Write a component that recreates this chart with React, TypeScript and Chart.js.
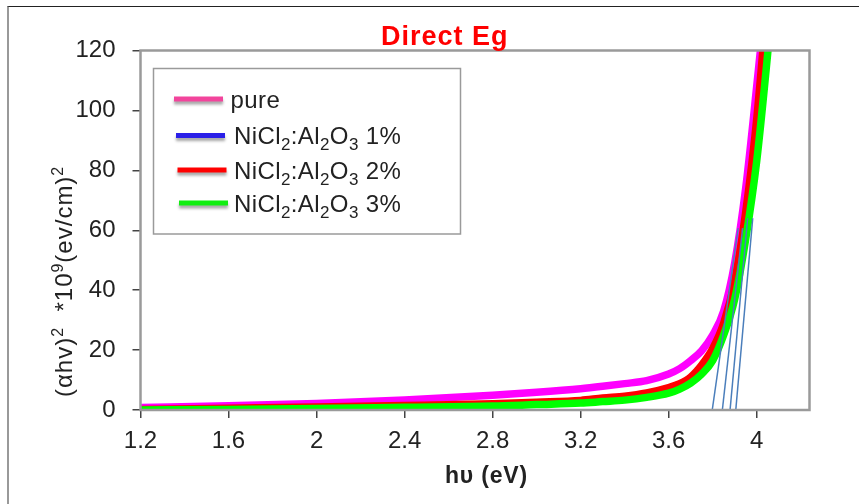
import { useEffect, useRef } from 'react';
import { Chart, registerables } from 'chart.js';

Chart.register(...registerables);

// ---- data ----
const energy = [1.2, 1.6, 2.0, 2.4, 2.8, 3.0, 3.2, 3.3, 3.4, 3.5, 3.6, 3.65, 3.7, 3.75, 3.8, 3.85, 3.9, 3.95, 4.0, 4.05, 4.1];
const pureValues = [0.8, 1.4, 2.2, 3.3, 4.9, 5.9, 7.1, 7.9, 8.8, 9.8, 12.0, 13.8, 16.5, 19.8, 25, 33, 49, 74, 108, 145, 190];
const ni1Values = [0.1, 0.4, 0.8, 1.2, 1.8, 2.2, 2.8, 3.4, 4.0, 5.1, 6.8, 8.2, 10.2, 14, 19.3, 27.8, 41.5, 64, 94, 136, 185];
const ni2Values = [0.2, 0.6, 1.0, 1.5, 2.1, 2.6, 3.2, 4.0, 4.6, 5.7, 7.5, 8.8, 11, 15, 20.5, 29, 43, 66, 97, 140, 190];
const ni3Values = [0.0, 0.2, 0.5, 0.9, 1.3, 1.8, 2.3, 2.8, 3.3, 4.2, 5.6, 7.0, 9.0, 12, 16.5, 25, 37, 57, 83, 119, 160];

const seriesNames = ['pure', 'NiCl2:Al2O3 1%', 'NiCl2:Al2O3 2%', 'NiCl2:Al2O3 3%'];

// tangent (extrapolation) lines: [x at y=0, x at top, y at top]
const tangentStartX = [3.798, 3.844, 3.879, 3.905];
const tangentEndX = [3.916, 3.936, 3.959, 3.982];
const tangentEndY = [60.7, 60.7, 64, 64];

const xTickValues = [1.2, 1.6, 2.0, 2.4, 2.8, 3.2, 3.6, 4.0];
const yTickValues = [0, 20, 40, 60, 80, 100, 120];

const chartTitle = 'Direct Eg';
const xTitle = 'hυ (eV)';

// ---- styles ----
const FONT = "'Liberation Sans', Arial, Helvetica, sans-serif";
const curveColors = ['#FF00FF', '#1A1AF0', '#FF0000', '#00FF00'];
const swatchColors = ['#F2449C', '#2A1FE8', '#FF0000', '#11EE11'];

type Seg = { t: string; k: number }; // k: 0 normal, 1 sup, -1 sub

function parseChem(s: string): Seg[] {
  const out: Seg[] = [];
  for (let i = 0; i < s.length; i++) {
    const c = s[i];
    const prev = i > 0 ? s[i - 1] : ' ';
    const isSub = /[0-9]/.test(c) && /[A-Za-z]/.test(prev);
    out.push({ t: c, k: isSub ? -1 : 0 });
  }
  return out;
}

function drawRich(ctx: CanvasRenderingContext2D, x: number, y: number, segs: Seg[], weight: string, size: number, smallSize: number, spacing: number) {
  let cx = x;
  for (const s of segs) {
    const sz = s.k === 0 ? size : smallSize;
    ctx.font = `${weight === 'bold' ? 'bold ' : ''}${sz}px ${FONT}`;
    (ctx as any).letterSpacing = `${spacing}px`;
    const dy = s.k === 1 ? -size * 0.38 : s.k === -1 ? size * 0.25 : 0;
    ctx.fillText(s.t, cx, y + dy);
    cx += ctx.measureText(s.t).width;
  }
  return cx - x;
}

const decorPlugin = {
  id: 'decor',
  afterDatasetsDraw(chart: any) {
    const ctx: CanvasRenderingContext2D = chart.ctx;
    const a = chart.chartArea;
    ctx.save();
    ctx.strokeStyle = '#9a9a9a';
    ctx.lineWidth = 2.5;
    ctx.strokeRect(a.left, a.top, a.right - a.left, a.bottom - a.top);
    ctx.restore();
  },
  afterDraw(chart: any) {
    const ctx: CanvasRenderingContext2D = chart.ctx;
    ctx.save();
    ctx.textBaseline = 'alphabetic';
    ctx.textAlign = 'left';

    // chart title
    ctx.fillStyle = '#FF0000';
    ctx.font = `bold 27px ${FONT}`;
    (ctx as any).letterSpacing = '1px';
    ctx.fillText(chartTitle, 381, 45);

    // x title
    ctx.fillStyle = '#222';
    ctx.font = `bold 23px ${FONT}`;
    (ctx as any).letterSpacing = '0.8px';
    ctx.fillText(xTitle, 445, 483);

    // y title (rotated)
    ctx.save();
    ctx.translate(72, 397);
    ctx.rotate(-Math.PI / 2);
    const ySegs: Seg[] = [
      { t: '(αhv)', k: 0 }, { t: '2', k: 1 }, { t: '  *10', k: 0 }, { t: '9', k: 1 },
      { t: '(ev/cm)', k: 0 }, { t: '2', k: 1 },
    ];
    drawRich(ctx, 0, 0, ySegs, 'normal', 24, 16, 1);
    ctx.restore();

    // legend box
    ctx.strokeStyle = '#9a9a9a';
    ctx.lineWidth = 1.5;
    ctx.strokeRect(153.5, 68.5, 307, 165.5);

    const rowY = [99, 135.5, 170, 203];
    const swX = [174, 176, 177.5, 179];
    const txtX = [230.5, 234, 234, 234];
    seriesNames.forEach((name, i) => {
      ctx.save();
      ctx.shadowColor = 'rgba(0,0,0,0.35)';
      ctx.shadowBlur = 3;
      ctx.shadowOffsetY = 3;
      ctx.strokeStyle = swatchColors[i];
      ctx.lineWidth = 5;
      ctx.beginPath();
      ctx.moveTo(swX[i], rowY[i]);
      ctx.lineTo(swX[i] + 49, rowY[i]);
      ctx.stroke();
      ctx.restore();
      ctx.fillStyle = '#222';
      drawRich(ctx, txtX[i], rowY[i] + 8.5, parseChem(name), 'normal', 24, 17, 0.4);
    });
    ctx.restore();
  },
};

function pts(vals: number[]) {
  return energy.map((x, i) => ({ x, y: vals[i] }));
}

export default function App() {
  const ref = useRef<HTMLCanvasElement | null>(null);
  useEffect(() => {
    if (!ref.current) return;
    const seriesVals = [pureValues, ni1Values, ni2Values, ni3Values];
    const orders = [4, 3, 2, 1];
    const curveSets = seriesVals.map((v, i) => ({
      label: seriesNames[i],
      data: pts(v),
      borderColor: curveColors[i],
      backgroundColor: curveColors[i],
      borderWidth: i === 1 ? 5 : 7.5,
      pointRadius: 0,
      cubicInterpolationMode: 'monotone' as const,
      clip: 0,
      order: orders[i],
    }));
    const tangentSets = tangentStartX.map((x0, i) => ({
      label: 'tangent' + i,
      data: [{ x: x0, y: 0 }, { x: tangentEndX[i], y: tangentEndY[i] }],
      borderColor: '#4A7EBB',
      borderWidth: 1.5,
      pointRadius: 0,
      clip: 0,
      order: 0,
    }));
    const chart = new Chart(ref.current, {
      type: 'line',
      data: { datasets: [...curveSets, ...tangentSets] as any },
      options: {
        animation: false,
        responsive: false,
        devicePixelRatio: 1,
        layout: { padding: { left: 0, top: 50.5, right: 49.5, bottom: 0 } },
        plugins: { legend: { display: false }, title: { display: false }, tooltip: { enabled: false } },
        scales: {
          x: {
            type: 'linear',
            min: 1.2,
            max: 4.24,
            afterBuildTicks: (s: any) => { s.ticks = xTickValues.map((v) => ({ value: v })); },
            afterFit: (s: any) => { s.height = 94; },
            ticks: {
              font: { family: FONT, size: 24 },
              color: '#222',
              padding: 9,
              maxRotation: 0,
              autoSkip: false,
              callback: (v: any) => String(Number(Number(v).toFixed(2))),
            },
            grid: { drawOnChartArea: false, tickLength: 8, color: '#444', lineWidth: 1.5 },
            border: { display: false },
          },
          y: {
            type: 'linear',
            min: 0,
            max: 120,
            afterBuildTicks: (s: any) => { s.ticks = yTickValues.map((v) => ({ value: v })); },
            afterFit: (s: any) => { s.width = 140.5; },
            ticks: { font: { family: FONT, size: 24 }, color: '#222', padding: 17 },
            grid: { drawOnChartArea: false, tickLength: 8, color: '#444', lineWidth: 1.5 },
            border: { display: false },
          },
        },
      },
      plugins: [decorPlugin],
    });
    return () => chart.destroy();
  }, []);

  return (
    <div style={{ position: 'absolute', left: 0, top: 0, width: 859, height: 504, background: '#fff', overflow: 'hidden' }}>
      <div style={{ position: 'absolute', left: 7, top: 6, width: 860, height: 510, borderTop: '1px solid #222', borderLeft: '2px solid #999' }} />
      <canvas ref={ref} width={859} height={504} style={{ position: 'absolute', left: 0, top: 0, display: 'block' }} />
    </div>
  );
}
